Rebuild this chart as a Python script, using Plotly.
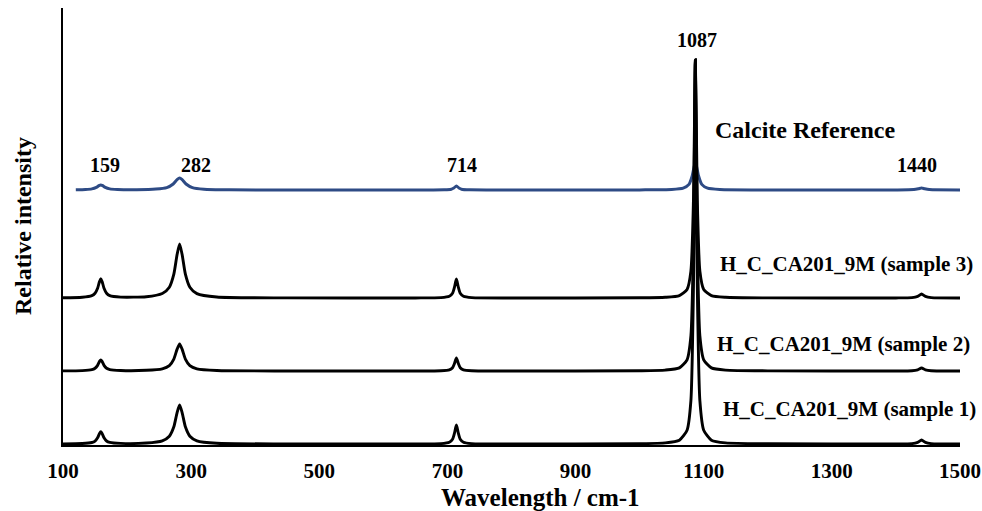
import plotly.graph_objects as go

# Wavenumber sample points (cm-1) for the three measured spectra
wavenumber = [100, 130, 145, 150, 154, 157, 159, 161, 164, 168, 173, 190, 230, 255, 266, 273,
              278, 282, 286, 291, 298, 309, 340, 450, 650, 690, 703, 708, 711, 714, 717, 720,
              725, 738, 800, 1000, 1040, 1062, 1074, 1080, 1084, 1087, 1090, 1094, 1100, 1112,
              1134, 1200, 1400, 1425, 1434, 1440, 1446, 1455, 1500]

# Relative intensity (offset stacked, arbitrary units)
sample1 = [1.16, 1.47, 2.5, 3.97, 7.15, 11.5, 13.2, 11.5, 7.2, 4.0, 2.6, 1.6, 2.0, 4.2, 8.8, 18.2,
           32.2, 40, 32.2, 18.2, 8.8, 4.2, 1.7, 1.1, 1.06, 1.4, 2.75, 5.8, 11.9, 20, 11.9, 5.8,
           2.75, 1.4, 1.05, 1.3, 2.1, 4.8, 14.8, 44.4, 158, 385, 158, 44.4, 14.8, 4.8,
           2.1, 1.2, 1.06, 1.4, 2.64, 5, 2.64, 1.4, 1.03]

sample2 = [74.1, 74.4, 75.3, 76.7, 79.6, 83.6, 85.1, 83.6, 79.6, 76.7, 75.4, 74.5, 74.7, 76.2, 79.4, 85.9,
           95.6, 101, 95.6, 85.9, 79.4, 76.2, 74.5, 74.05, 74.04, 74.3, 75.2, 77.3, 81.5, 87, 81.5, 77.3,
           75.2, 74.3, 74.03, 74.25, 74.9, 77.1, 85.2, 109.1, 201.5, 385, 201.5, 109.1, 85.2, 77.1,
           74.9, 74.15, 74.05, 74.3, 75.2, 77, 75.2, 74.3, 74.02]

sample3 = [147.2, 147.7, 149.3, 151.7, 156.7, 163.6, 166.2, 163.6, 156.7, 151.8, 149.4, 147.9, 148.3, 151.5, 157.8, 170.8,
           190.2, 201, 190.2, 170.8, 157.8, 151.4, 148, 147.1, 147.06, 147.4, 148.75, 151.8, 157.9, 166, 157.9, 151.8,
           148.75, 147.4, 147.04, 147.2, 147.7, 149.4, 155.6, 173.9, 244.6, 385, 244.6, 173.9, 155.6, 149.4,
           147.7, 147.1, 147.06, 147.4, 148.6, 151, 148.6, 147.4, 147.03]

# Calcite reference spectrum
calcite_x = [120, 135, 145, 152, 156, 159, 162, 166, 173, 185, 215, 245, 262, 272, 278, 282, 286, 292,
             302, 320, 360, 450, 650, 695, 706, 710, 714, 718, 722, 735, 800, 1000, 1050, 1068, 1077,
             1082, 1087, 1092, 1097, 1106, 1125, 1200, 1400, 1428, 1435, 1440, 1445, 1452, 1500]
calcite_y = [255.2, 255.5, 256.1, 257.6, 259.3, 260.1, 259.3, 257.6, 256.1, 255.5, 255.3, 255.9, 257.4, 261, 265.3, 267, 265.3, 261,
             257.4, 255.8, 255.2, 255.04, 255.02, 255.2, 255.8, 257, 259, 257, 255.8, 255.15, 255.01, 255.1, 255.5, 256.8, 260.6,
             269, 283, 269, 260.6, 256.8, 255.5, 255.05, 255.04, 255.4, 256.2, 257, 256.2, 255.4, 255.02]

x_ticks = [100, 300, 500, 700, 900, 1100, 1300, 1500]

# Text labels: (text, x, y)
peak_labels = [("159", 166, 280), ("282", 307, 280), ("714", 723, 280),
               ("1087", 1089, 405), ("1440", 1433, 280)]
series_labels = [("Calcite Reference", 1258, 315, 24),
                 ("H_C_CA201_9M (sample 3)", 1323, 181, 21),
                 ("H_C_CA201_9M (sample 2)", 1318, 101, 21),
                 ("H_C_CA201_9M (sample 1)", 1328, 36, 21)]

FONT = "Liberation Serif"
BLUE = "#2E4B85"

fig = go.Figure()
fig.add_trace(go.Scatter(x=calcite_x, y=calcite_y, mode="lines", name="Calcite Reference",
                         line=dict(color=BLUE, width=3, shape="spline", smoothing=0.6)))
for name, ys in [("sample 3", sample3), ("sample 2", sample2), ("sample 1", sample1)]:
    fig.add_trace(go.Scatter(x=wavenumber, y=ys, mode="lines", name=name,
                             line=dict(color="black", width=2.9, shape="spline", smoothing=0.6)))

annotations = []
for text, x, y in peak_labels:
    annotations.append(dict(text=text, x=x, y=y, xref="x", yref="y", showarrow=False,
                            xanchor="center", yanchor="middle",
                            font=dict(family=FONT, size=20, color="black", weight="bold")))
for text, x, y, size in series_labels:
    annotations.append(dict(text=text, x=x, y=y, xref="x", yref="y", showarrow=False,
                            xanchor="center", yanchor="middle",
                            font=dict(family=FONT, size=size, color="black", weight="bold")))
annotations.append(dict(text="Wavelength / cm-1", x=(540 - 63) / 897, y=-52 / 437, xref="paper", yref="paper",
                        showarrow=False, xanchor="center", yanchor="middle",
                        font=dict(family=FONT, size=25, color="black", weight="bold")))
annotations.append(dict(text="Relative intensity", x=-40 / 897, y=(445 - 226) / 437, xref="paper", yref="paper",
                        showarrow=False, textangle=-90, xanchor="center", yanchor="middle",
                        font=dict(family=FONT, size=24, color="black", weight="bold")))

fig.update_layout(
    width=982, height=511,
    margin=dict(l=63, r=22, t=8, b=66, autoexpand=False),
    plot_bgcolor="white", paper_bgcolor="white",
    showlegend=False,
    annotations=annotations,
    xaxis=dict(range=[100, 1500], tickvals=x_ticks, ticktext=[str(v) for v in x_ticks],
               showgrid=False, zeroline=False, showline=True, linecolor="black", linewidth=2,
               ticks="", ticklabelstandoff=6, automargin=False,
               tickfont=dict(family=FONT, size=21, color="black", weight="bold")),
    yaxis=dict(range=[0, 437], showticklabels=False, showgrid=False, zeroline=False,
               showline=True, linecolor="black", linewidth=2, ticks="", automargin=False),
)

fig.write_html("out.html", config={"displayModeBar": False},
               post_script="document.body.style.margin='0px';document.body.style.overflow='hidden';")
